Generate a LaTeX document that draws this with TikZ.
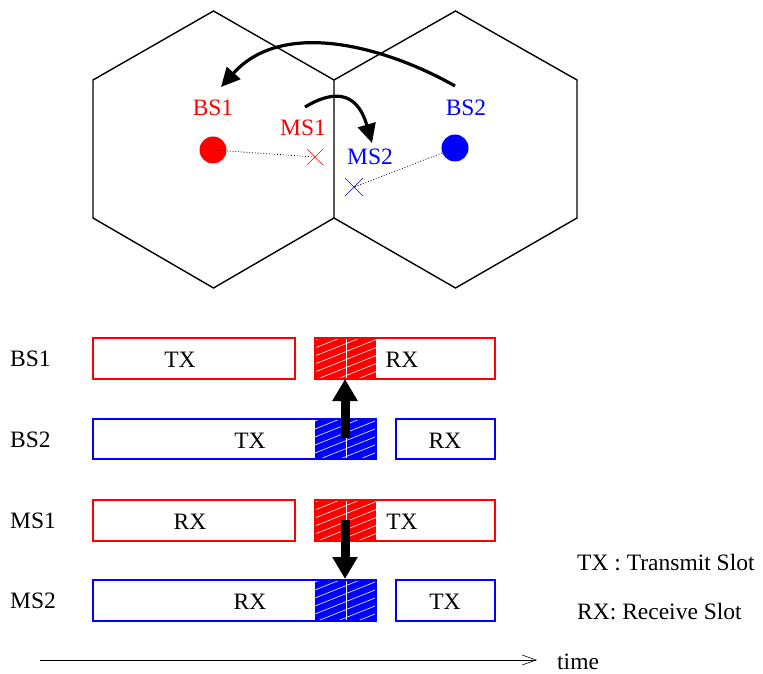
\documentclass[tikz,border=0pt]{standalone}
\usepackage{fontspec}
\setmainfont{Liberation Serif}
\usetikzlibrary{arrows.meta,calc}
\definecolor{pred}{RGB}{255,0,0}
\definecolor{pblue}{RGB}{0,0,255}
\tikzset{
  cell/.style={line width=1.4pt},
  station/.style={font=\fontsize{23.5}{28}\selectfont, inner sep=0pt},
  txt/.style={font=\fontsize{23.5}{28}\selectfont, inner sep=0pt},
  slotbox/.style={line width=1.8pt, fill=white},
  hop/.style={line width=3.2pt, -{Triangle[length=19pt,width=18pt]}},
  blockarrow/.style={line width=9pt, -{Triangle[length=22pt,width=24pt]}},
  link/.style={dotted, line width=0.8pt},
  cross/.style={line width=0.7pt}
}
% hatched slot: solid fill with white diagonal hatching and a divider
\newcommand{\hatchslot}[3]{%
  \fill[#1] (315,#2) rectangle (376,#3);
  \begin{scope}
    \clip (315,#2) rectangle (376,#3);
    \foreach \k in {0,...,16}
      \draw[white, line width=0.6pt] (300,{#2+\k*8}) -- ++(100,-40);
  \end{scope}
  \draw[white, line width=0.8pt] (346,#2) -- (346,#3);
}
\begin{document}
\begin{tikzpicture}[x=1pt,y=-1pt]
\useasboundingbox (0,0) rectangle (763,674);

% two hexagonal cells
\draw[cell] (334,80) -- (213.5,11) -- (93,80) -- (93,218) -- (213.5,288) -- (334,218) -- cycle;
\draw[cell] (334,80) -- (455.5,11) -- (577,80) -- (577,218) -- (455.5,288) -- (334,218);

% stations
\fill[pred] (213,150) circle (13.5pt) coordinate (bs1);
\fill[pblue] (455,148) circle (13.5pt) coordinate (bs2);
\coordinate (ms1) at (315,157);
\coordinate (ms2) at (354,187);
\draw[pred, cross] ($(ms1)+(-8,-8)$) -- ($(ms1)+(8,8)$) ($(ms1)+(-8,8)$) -- ($(ms1)+(8,-8)$);
\draw[pblue, cross] ($(ms2)+(-9,-9)$) -- ($(ms2)+(9,9)$) ($(ms2)+(-9,9)$) -- ($(ms2)+(9,-9)$);
\node[station, text=pred] (lbs1) at (213,108) {BS1};
\node[station, text=pred] (lms1) at (303,128) {MS1};
\node[station, text=pblue] (lms2) at (370,157) {MS2};
\node[station, text=pblue] (lbs2) at (466,108) {BS2};

% radio links
\draw[link] (bs1) -- (ms1);
\draw[link] (bs2) -- (ms2);

% interference paths
\coordinate (a1) at (455,86);
\coordinate (a2) at (221,87);
\draw[hop] (a1) .. controls (392,50) and (285,16) .. (a2);
\coordinate (b1) at (305,107);
\coordinate (b2) at (372,143);
\draw[hop] (b1) .. controls (330,92) and (356,88) .. (b2);

% row labels
\node[txt, anchor=west] (rbs1) at (10,359) {BS1};
\node[txt, anchor=west] (rbs2) at (10,440) {BS2};
\node[txt, anchor=west] (rms1) at (10,521) {MS1};
\node[txt, anchor=west] (rms2) at (10,601) {MS2};

% BS1 frame
\draw[slotbox, draw=pred] (93,338) rectangle (295,379);
\draw[slotbox, draw=pred] (315,338) rectangle (495,379);
\hatchslot{pred}{338}{379}
\draw[pred, line width=1.8pt] (315,338) rectangle (495,379);
\node[txt] (t1) at (180,360) {TX};
\node[txt] (t2) at (402,360) {RX};

% BS2 frame
\draw[slotbox, draw=pblue] (93,419) rectangle (376,459);
\hatchslot{pblue}{419}{459}
\draw[pblue, line width=1.8pt] (93,419) rectangle (376,459);
\draw[slotbox, draw=pblue] (396,419) rectangle (495,459);
\node[txt] (t3) at (250,441) {TX};
\node[txt] (t4) at (445,441) {RX};

% MS1 frame
\draw[slotbox, draw=pred] (93,500) rectangle (295,541);
\draw[slotbox, draw=pred] (315,500) rectangle (495,541);
\hatchslot{pred}{500}{541}
\draw[pred, line width=1.8pt] (315,500) rectangle (495,541);
\node[txt] (t5) at (190,522) {RX};
\node[txt] (t6) at (402,522) {TX};

% MS2 frame
\draw[slotbox, draw=pblue] (93,580) rectangle (376,621);
\hatchslot{pblue}{580}{621}
\draw[pblue, line width=1.8pt] (93,580) rectangle (376,621);
\draw[slotbox, draw=pblue] (396,580) rectangle (495,621);
\node[txt] (t7) at (250,602) {RX};
\node[txt] (t8) at (445,602) {TX};

% slot collisions
\coordinate (u1) at (345,438);
\coordinate (u2) at (345,379);
\draw[blockarrow] (u1) -- (u2);
\coordinate (d1) at (345,520);
\coordinate (d2) at (345,579);
\draw[blockarrow] (d1) -- (d2);

% legend
\node[txt, anchor=west] (leg1) at (577,563) {TX : Transmit Slot};
\node[txt, anchor=west] (leg2) at (577,612) {RX: Receive Slot};

% time axis
\coordinate (ts) at (40,660);
\coordinate (te) at (537,660);
\draw[line width=0.6pt, -{Straight Barb[length=14pt,width=10pt,line width=0.6pt]}] (ts) -- (te);
\node[txt, anchor=west] (time) at (557,662) {time};
\end{tikzpicture}
\end{document}
